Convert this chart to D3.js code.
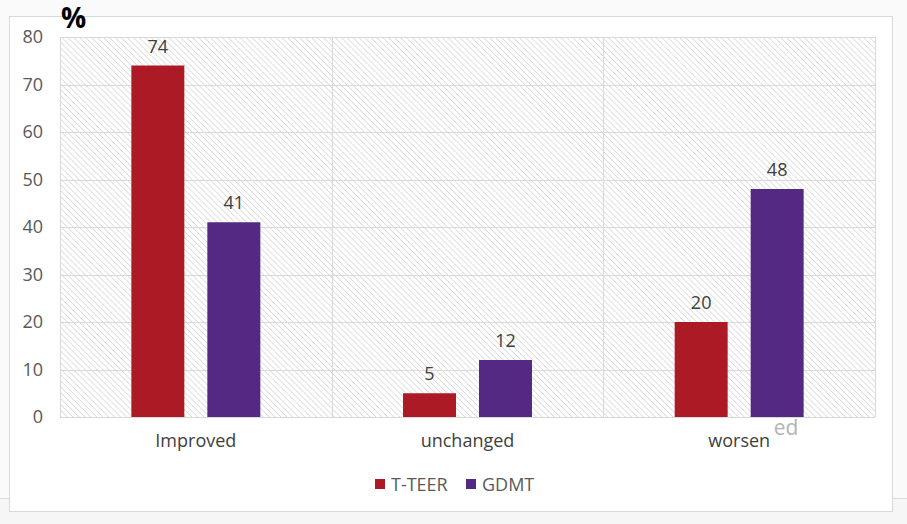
<!DOCTYPE html>
<html>
<head>
<meta charset="utf-8">
<script src="https://cdn.jsdelivr.net/npm/d3@7"></script>
<style>
  html, body { margin: 0; padding: 0; background: #fafafa; }
  svg { display: block; }
  text { font-family: "Open Sans", sans-serif; }
</style>
</head>
<body>
<svg id="chart" width="907" height="524"></svg>
<script>
const categories = ["Improved", "unchanged", "worsen"];
const seriesNames = ["T-TEER", "GDMT"];
const tteerValues = [74, 5, 20];
const gdmtValues = [41, 12, 48];
const yTicks = [0, 10, 20, 30, 40, 50, 60, 70, 80];
const colors = ["#AC1A25", "#532984"];

const svg = d3.select("#chart");
const W = 907, H = 524;

// background bands
svg.append("rect").attr("x", 0).attr("y", 0).attr("width", W).attr("height", H).attr("fill", "#fafafa");
svg.append("rect").attr("x", 0).attr("y", 498).attr("width", W).attr("height", H - 498).attr("fill", "#f6f6f6");
svg.append("line").attr("x1", 0).attr("x2", W).attr("y1", 498.5).attr("y2", 498.5).attr("stroke", "#dcdcdc");

// chart frame
svg.append("rect").attr("x", 9.5).attr("y", 16.5).attr("width", 883).attr("height", 495)
  .attr("fill", "#ffffff").attr("stroke", "#d9d9d9").attr("stroke-width", 1);

// hatch pattern (downward diagonal)
const defs = svg.append("defs");
const pat = defs.append("pattern").attr("id", "hatch").attr("patternUnits", "userSpaceOnUse")
  .attr("width", 4.2).attr("height", 4.2).attr("patternTransform", "rotate(-45)");
pat.append("rect").attr("width", 4.2).attr("height", 4.2).attr("fill", "#ffffff");
pat.append("line").attr("x1", 0).attr("y1", 0).attr("x2", 0).attr("y2", 4.2)
  .attr("stroke", "#d6d6d6").attr("stroke-width", 1.5);

const margin = { left: 60, right: 32, top: 37, bottom: 107 };
const x0 = d3.scaleBand().domain(categories).range([margin.left, W - margin.right]).paddingInner(0).paddingOuter(0);
const y = d3.scaleLinear().domain([0, 80]).range([H - margin.bottom, margin.top]);
const x1 = d3.scaleBand().domain(seriesNames).range([0, x0.bandwidth()]).paddingInner(0.303).paddingOuter(0.939);

const plot = svg.append("g");
plot.append("rect").attr("x", margin.left).attr("y", y(80))
  .attr("width", x0.range()[1] - margin.left).attr("height", y(0) - y(80))
  .attr("fill", "url(#hatch)");

// horizontal gridlines
plot.selectAll(".hg").data(yTicks).join("line")
  .attr("x1", margin.left).attr("x2", x0.range()[1])
  .attr("y1", d => Math.round(y(d)) + 0.5).attr("y2", d => Math.round(y(d)) + 0.5)
  .attr("stroke", "#d9d9d9").attr("stroke-width", 1);

// vertical gridlines at category boundaries
const bounds = categories.map(c => x0(c)).concat([x0.range()[1]]);
plot.selectAll(".vg").data(bounds).join("line")
  .attr("x1", d => Math.round(d) + 0.5).attr("x2", d => Math.round(d) + 0.5)
  .attr("y1", y(80)).attr("y2", y(0))
  .attr("stroke", "#d9d9d9").attr("stroke-width", 1);

// y axis labels
const yAxis = d3.axisLeft(y).tickValues(yTicks).tickSize(0).tickPadding(0);
const ya = svg.append("g").attr("transform", `translate(${margin.left - 17},0)`).call(yAxis);
ya.select(".domain").remove();
ya.selectAll("text").attr("font-size", 18).attr("fill", "#595959").attr("font-family", "Open Sans, sans-serif");

// x axis labels
const xAxis = d3.axisBottom(x0).tickSize(0).tickPadding(0);
const xa = svg.append("g").attr("transform", `translate(0,${y(0) + 17})`).call(xAxis);
xa.select(".domain").remove();
xa.selectAll("text").attr("font-size", 18).attr("fill", "#404040").attr("font-family", "Open Sans, sans-serif");

// bars
const data = categories.map((c, i) => ({ cat: c, vals: [tteerValues[i], gdmtValues[i]] }));
const groups = svg.selectAll(".grp").data(data).join("g")
  .attr("transform", d => `translate(${x0(d.cat)},0)`);
groups.selectAll("rect").data(d => d.vals.map((v, j) => ({ s: seriesNames[j], v, j }))).join("rect")
  .attr("x", d => x1(d.s)).attr("width", x1.bandwidth())
  .attr("y", d => y(d.v)).attr("height", d => y(0) - y(d.v))
  .attr("fill", d => colors[d.j]);
groups.selectAll("text").data(d => d.vals.map((v, j) => ({ s: seriesNames[j], v, j }))).join("text")
  .attr("x", d => x1(d.s) + x1.bandwidth() / 2).attr("y", d => y(d.v) - 13)
  .attr("text-anchor", "middle").attr("font-size", 18).attr("fill", "#404040")
  .text(d => d.v);

// stray "ed" text
svg.append("text").attr("x", 786).attr("y", 435).attr("text-anchor", "middle")
  .attr("font-size", 21).attr("fill", "#b3b3b3").text("ed");

// % label
svg.append("text").attr("x", 61).attr("y", 28).attr("font-size", 28).attr("font-weight", "bold")
  .attr("fill", "#000").attr("font-family", "Open Sans, sans-serif").text("%");

// legend
const legendX = [375, 466];
const lg = svg.selectAll(".lg").data(seriesNames).join("g")
  .attr("transform", (d, i) => `translate(${legendX[i]},479)`);
lg.append("rect").attr("width", 10).attr("height", 10).attr("fill", (d, i) => colors[i]);
lg.append("text").attr("x", 16).attr("y", 11.5).attr("font-size", 18).attr("fill", "#595959").text(d => d);
</script>
</body>
</html>
